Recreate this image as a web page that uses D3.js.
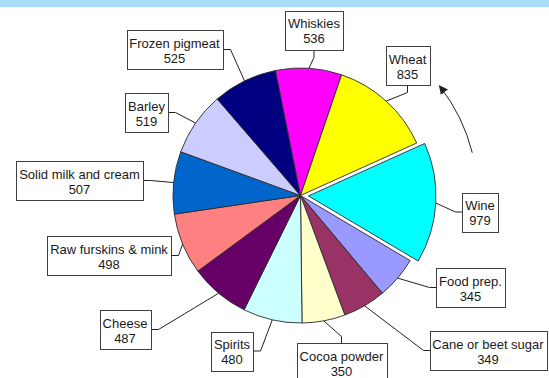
<!DOCTYPE html>
<html>
<head>
<meta charset="utf-8">
<script src="https://cdn.jsdelivr.net/npm/d3@7"></script>
<style>
  html, body { margin: 0; padding: 0; background: #fff; }
  svg { display: block; }
</style>
</head>
<body>
<svg id="chart" width="549" height="378"></svg>
<script>
// Export products and their values, in clockwise order from the exploded slice
const categories = ["Wine", "Food prep.", "Cane or beet sugar", "Cocoa powder", "Spirits",
  "Cheese", "Raw furskins & mink", "Solid milk and cream", "Barley", "Frozen pigmeat",
  "Whiskies", "Wheat"];
const values = [979, 345, 349, 350, 480, 487, 498, 507, 519, 525, 536, 835];
const sliceColors = ["#00FFFF", "#9999FF", "#993366", "#FFFFCC", "#CCFFFF", "#660066",
  "#FF8080", "#0066CC", "#CCCCFF", "#000080", "#FF00FF", "#FFFF00"];
const explodedSlices = ["Wine"];

// Label box placement: centre of each callout and the edge its leader leaves from
const labelLayout = [
  { x: 480,   y: 212,   side: "left" },
  { x: 470.5, y: 287.5, side: "left" },
  { x: 488,   y: 350.5, side: "left" },
  { x: 341.5, y: 362.5, side: "top" },
  { x: 232,   y: 351,   side: "right" },
  { x: 125,   y: 329.5, side: "right" },
  { x: 109,   y: 255.5, side: "right" },
  { x: 79.5,  y: 180.5, side: "right" },
  { x: 146.5, y: 112.5, side: "right" },
  { x: 174.5, y: 49.5,  side: "right" },
  { x: 314,   y: 30,    side: "bottom" },
  { x: 407.5, y: 65.5,  side: "bottom" }
];

const svg = d3.select("#chart");
const W = 549, H = 378;
const cx = 300.5, cy = 195.5, R = 127.5, explode = 8;
const rot = 65.7 * Math.PI / 180;
const boxH = 39, elbow = 7;

// top band
svg.append("rect").attr("x", 0).attr("y", 0).attr("width", W).attr("height", 7)
  .attr("fill", "#A8DEF9");

const data = categories.map((c, i) => ({ name: c, value: values[i], color: sliceColors[i], layout: labelLayout[i] }));

const pie = d3.pie().sort(null).value(d => d.value)
  .startAngle(rot).endAngle(rot + 2 * Math.PI);
const arcs = pie(data);
const arcGen = d3.arc().innerRadius(0).outerRadius(R);

function offsetOf(a) {
  if (!explodedSlices.includes(a.data.name)) return [0, 0];
  const m = (a.startAngle + a.endAngle) / 2;
  return [explode * Math.sin(m), -explode * Math.cos(m)];
}

const g = svg.append("g").attr("transform", `translate(${cx},${cy})`);
g.selectAll("path.slice").data(arcs).join("path")
  .attr("class", "slice")
  .attr("transform", d => { const o = offsetOf(d); return `translate(${o[0]},${o[1]})`; })
  .attr("d", arcGen)
  .attr("fill", d => d.data.color)
  .attr("stroke", "#2a2a2a")
  .attr("stroke-width", 0.9)
  .attr("stroke-linejoin", "round");

// direction arrow
const defs = svg.append("defs");
defs.append("marker").attr("id", "arrowHead")
  .attr("viewBox", "0 0 10 10").attr("refX", 8).attr("refY", 5)
  .attr("markerWidth", 9).attr("markerHeight", 9).attr("markerUnits", "userSpaceOnUse")
  .attr("orient", "auto")
  .append("path").attr("d", "M0,0 L10,5 L0,10 Z").attr("fill", "#222");
const arrowPath = d3.path();
const aR = 177;
const a0 = (76 - 90) * Math.PI / 180, a1 = (52 - 90) * Math.PI / 180;
arrowPath.arc(cx, cy, aR, a0, a1, true);
svg.append("path").attr("d", arrowPath.toString())
  .attr("fill", "none").attr("stroke", "#222").attr("stroke-width", 1)
  .attr("marker-end", "url(#arrowHead)");

// callouts
const labels = svg.append("g").attr("font-family", "'Liberation Sans', Arial, sans-serif")
  .attr("font-size", 13).attr("fill", "#1a1a1a");

arcs.forEach(a => {
  const L = a.data.layout;
  const grp = labels.append("g");
  const rect = grp.append("rect");
  const t1 = grp.append("text").attr("text-anchor", "middle")
    .attr("x", L.x).attr("y", L.y - 2).text(a.data.name);
  const t2 = grp.append("text").attr("text-anchor", "middle")
    .attr("x", L.x).attr("y", L.y + 13).text(a.data.value);
  const w = Math.max(t1.node().getComputedTextLength(), t2.node().getComputedTextLength()) + 6;
  const bw = Math.round(w);
  const x0 = Math.round(L.x - bw / 2) + 0.5, y0 = Math.round(L.y - boxH / 2) + 0.5;
  rect.attr("x", x0).attr("y", y0).attr("width", bw).attr("height", boxH)
    .attr("fill", "#fff").attr("stroke", "#404040").attr("stroke-width", 1);

  // leader: from box edge, short straight stub, then to slice edge at mid-angle
  let p0, p1;
  if (L.side === "left")   { p0 = [x0, L.y]; p1 = [x0 - elbow, L.y]; }
  if (L.side === "right")  { p0 = [x0 + bw, L.y]; p1 = [x0 + bw + elbow, L.y]; }
  if (L.side === "top")    { p0 = [L.x, y0]; p1 = [L.x, y0 - elbow]; }
  if (L.side === "bottom") { p0 = [L.x, y0 + boxH]; p1 = [L.x, y0 + boxH + elbow]; }
  const m = (a.startAngle + a.endAngle) / 2;
  const o = offsetOf(a);
  const p2 = [cx + o[0] + R * Math.sin(m), cy + o[1] - R * Math.cos(m)];
  grp.insert("path", "rect")
    .attr("d", d3.line()([p0, p1, p2]))
    .attr("fill", "none").attr("stroke", "#222").attr("stroke-width", 1);
});
</script>
</body>
</html>
